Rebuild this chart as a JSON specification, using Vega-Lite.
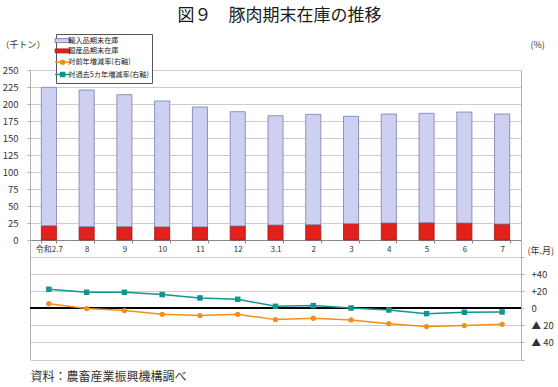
{
  "$schema": "https://vega.github.io/schema/vega-lite/v6.json",
  "width": 491,
  "height": 289.5,
  "autosize": {"type": "none"},
  "padding": {"left": 30, "top": 70, "right": 37, "bottom": 27.5},
  "background": "white",
  "title": {"text": "図９　豚肉期末在庫の推移", "fontSize": 17, "font": "Noto Sans CJK JP", "fontWeight": "normal", "color": "#1a1a1a", "anchor": "middle", "frame": "group", "offset": 9, "dx": 4},
  "config": {"view": {"stroke": null}, "font": "Noto Sans CJK JP"},
  "datasets": {
    "stock": [
      {"month": "令和2.7", "series": "国産品期末在庫", "value": 21.0},
      {"month": "令和2.7", "series": "輸入品期末在庫", "value": 203.5},
      {"month": "8", "series": "国産品期末在庫", "value": 19.6},
      {"month": "8", "series": "輸入品期末在庫", "value": 201.0},
      {"month": "9", "series": "国産品期末在庫", "value": 19.6},
      {"month": "9", "series": "輸入品期末在庫", "value": 194.1},
      {"month": "10", "series": "国産品期末在庫", "value": 19.3},
      {"month": "10", "series": "輸入品期末在庫", "value": 185.1},
      {"month": "11", "series": "国産品期末在庫", "value": 19.3},
      {"month": "11", "series": "輸入品期末在庫", "value": 176.3},
      {"month": "12", "series": "国産品期末在庫", "value": 20.6},
      {"month": "12", "series": "輸入品期末在庫", "value": 168.1},
      {"month": "3.1", "series": "国産品期末在庫", "value": 22.0},
      {"month": "3.1", "series": "輸入品期末在庫", "value": 160.8},
      {"month": "2", "series": "国産品期末在庫", "value": 22.5},
      {"month": "2", "series": "輸入品期末在庫", "value": 162.3},
      {"month": "3", "series": "国産品期末在庫", "value": 24.0},
      {"month": "3", "series": "輸入品期末在庫", "value": 157.9},
      {"month": "4", "series": "国産品期末在庫", "value": 25.0},
      {"month": "4", "series": "輸入品期末在庫", "value": 160.3},
      {"month": "5", "series": "国産品期末在庫", "value": 25.5},
      {"month": "5", "series": "輸入品期末在庫", "value": 160.8},
      {"month": "6", "series": "国産品期末在庫", "value": 25.0},
      {"month": "6", "series": "輸入品期末在庫", "value": 163.2},
      {"month": "7", "series": "国産品期末在庫", "value": 23.5},
      {"month": "7", "series": "輸入品期末在庫", "value": 161.8}
    ],
    "rates": [
      {"month": "令和2.7", "yoy": 5.4, "five": 22.2},
      {"month": "8", "yoy": -0.4, "five": 18.7},
      {"month": "9", "yoy": -2.7, "five": 18.7},
      {"month": "10", "yoy": -7.1, "five": 16.0},
      {"month": "11", "yoy": -8.6, "five": 12.1},
      {"month": "12", "yoy": -7.1, "five": 10.5},
      {"month": "3.1", "yoy": -13.3, "five": 2.3},
      {"month": "2", "yoy": -11.7, "five": 3.1},
      {"month": "3", "yoy": -13.7, "five": 0.3},
      {"month": "4", "yoy": -18.0, "five": -2.0},
      {"month": "5", "yoy": -21.5, "five": -6.3},
      {"month": "6", "yoy": -20.3, "five": -4.7},
      {"month": "7", "yoy": -18.8, "five": -4.3}
    ]
  },
  "layer": [
    {
      "data": {"name": "stock"},
      "mark": {"type": "bar", "strokeWidth": 0.8},
      "encoding": {
        "x": {
          "field": "month", "type": "nominal", "sort": null,
          "scale": {"paddingInner": 0.6, "paddingOuter": 0.3},
          "axis": {
            "orient": "bottom", "offset": -119.5, "labelAngle": 0, "labelFontSize": 8, "labelColor": "#333", "labelPadding": 2,
            "domainColor": "#888", "tickColor": "#888", "tickSize": 3, "tickBand": "extent", "grid": false,
            "title": "(年.月)", "titleX": 497, "titleY": 10, "titleAlign": "left", "titleBaseline": "middle",
            "titleFontSize": 9, "titleFontWeight": "normal", "titleColor": "#333"
          }
        },
        "y": {
          "field": "value", "type": "quantitative", "stack": "zero",
          "scale": {"domain": [-175.7, 250], "nice": false, "zero": false},
          "axis": {
            "orient": "left", "values": [0, 25, 50, 75, 100, 125, 150, 175, 200, 225, 250],
            "grid": true, "gridColor": "#cccccc", "domainColor": "#b0b0b0", "tickColor": "#b0b0b0", "tickSize": 3,
            "labelFontSize": 9.5, "labelColor": "#333", "labelPadding": 9,
            "title": "（千トン）", "titleAngle": 0, "titleAlign": "left", "titleBaseline": "middle",
            "titleX": -30, "titleY": -26, "titleFontSize": 9, "titleFontWeight": "normal", "titleColor": "#333"
          }
        },
        "color": {
          "field": "series", "type": "nominal",
          "scale": {"domain": ["輸入品期末在庫", "国産品期末在庫", "対前年増減率(右軸)", "対過去5カ年増減率(右軸)"], "range": ["#cdd0f1", "#e3211b", "#f0901a", "#13958f"]},
          "legend": {
            "orient": "none", "legendX": 26, "legendY": -36, "title": null, "direction": "vertical",
            "fillColor": "white", "strokeColor": "#555", "padding": 3,
            "labelFontSize": 7.2, "labelColor": "#222", "labelOffset": 2, "symbolSize": 100, "rowPadding": 1.3,
            "encode": {
              "symbols": {
                "update": {
                  "shape": {"signal": "datum.value === '対前年増減率(右軸)' ? 'M-1.5,0H1.5M0.4,0A0.4,0.4 0 1,1 -0.4,0A0.4,0.4 0 1,1 0.4,0' : datum.value === '対過去5カ年増減率(右軸)' ? 'M-1.5,0H1.5M-0.4,-0.4H0.4V0.4H-0.4Z' : 'M-1.5,-0.4H1.5V0.4H-1.5Z'"},
                  "fill": {"signal": "datum.value === '輸入品期末在庫' ? '#cdd0f1' : datum.value === '国産品期末在庫' ? '#e3211b' : datum.value === '対前年増減率(右軸)' ? '#f0901a' : '#13958f'"},
                  "stroke": {"signal": "datum.value === '輸入品期末在庫' ? '#6b6bb0' : datum.value === '国産品期末在庫' ? '#a31515' : datum.value === '対前年増減率(右軸)' ? '#f0901a' : '#13958f'"},
                  "strokeWidth": {"signal": "datum.value === '輸入品期末在庫' || datum.value === '国産品期末在庫' ? 0.8 : 1.5"},
                  "opacity": {"value": 1},
                  "fillOpacity": {"value": 1}
                }
              }
            }
          }
        },
        "stroke": {
          "field": "series", "type": "nominal", "legend": null,
          "scale": {"domain": ["輸入品期末在庫", "国産品期末在庫"], "range": ["#7b7bb5", "#a31515"]}
        },
        "order": {"field": "series", "sort": "ascending"}
      }
    },
    {
      "data": {"name": "rates"},
      "encoding": {
        "x": {
          "field": "month", "type": "nominal", "sort": null,
          "axis": {
            "orient": "bottom", "labels": false, "ticks": false, "domain": false, "grid": false,
            "title": "資料：農畜産業振興機構調べ", "titleX": 0, "titleY": 17, "titleAlign": "left", "titleBaseline": "middle",
            "titleFontSize": 12, "titleFontWeight": "normal", "titleColor": "#333"
          }
        }
      },
      "layer": [
        {
          "mark": {"type": "rule", "color": "#000", "strokeWidth": 1.5},
          "encoding": {
            "x": {"value": 0}, "x2": {"value": 491},
            "y": {
              "datum": 0, "type": "quantitative",
              "scale": {"domain": [-60, 279], "nice": false, "zero": false},
              "axis": {
                "orient": "right", "values": [-60, -40, -20, 0, 20, 40, 60],
                "grid": true, "gridColor": "#cccccc", "domainColor": "#b0b0b0", "tickColor": "#b0b0b0", "tickSize": 3,
                "labelFontSize": 9.5, "labelColor": "#333", "labelPadding": 7,
                "labelExpr": "abs(datum.value) >= 60 ? '' : datum.value > 0 ? '+' + datum.value : datum.value < 0 ? '▲ ' + abs(datum.value) : '0'",
                "title": "(%)", "titleAngle": 0, "titleAlign": "left", "titleBaseline": "middle",
                "titleX": 9, "titleY": -26, "titleFontSize": 9, "titleFontWeight": "normal", "titleColor": "#333"
              }
            }
          }
        },
        {
          "mark": {"type": "line", "color": "#f0901a", "strokeWidth": 1.5},
          "encoding": {
            "y": {
              "field": "yoy", "type": "quantitative",
              "axis": {
                "orient": "right", "values": [-60, -40, -20, 0, 20, 40, 60],
                "grid": true, "gridColor": "#cccccc", "domainColor": "#b0b0b0", "tickColor": "#b0b0b0", "tickSize": 3,
                "labelFontSize": 9.5, "labelColor": "#333", "labelPadding": 7,
                "labelExpr": "abs(datum.value) >= 60 ? '' : datum.value > 0 ? '+' + datum.value : datum.value < 0 ? '▲ ' + abs(datum.value) : '0'",
                "title": "(%)", "titleAngle": 0, "titleAlign": "left", "titleBaseline": "middle",
                "titleX": 9, "titleY": -26, "titleFontSize": 9, "titleFontWeight": "normal", "titleColor": "#333"
              }
            }
          }
        },
        {
          "mark": {"type": "point", "shape": "circle", "filled": true, "color": "#f0901a", "size": 28, "opacity": 1},
          "encoding": {
            "y": {
              "field": "yoy", "type": "quantitative",
              "axis": {
                "orient": "right", "values": [-60, -40, -20, 0, 20, 40, 60],
                "grid": true, "gridColor": "#cccccc", "domainColor": "#b0b0b0", "tickColor": "#b0b0b0", "tickSize": 3,
                "labelFontSize": 9.5, "labelColor": "#333", "labelPadding": 7,
                "labelExpr": "abs(datum.value) >= 60 ? '' : datum.value > 0 ? '+' + datum.value : datum.value < 0 ? '▲ ' + abs(datum.value) : '0'",
                "title": "(%)", "titleAngle": 0, "titleAlign": "left", "titleBaseline": "middle",
                "titleX": 9, "titleY": -26, "titleFontSize": 9, "titleFontWeight": "normal", "titleColor": "#333"
              }
            }
          }
        },
        {
          "mark": {"type": "line", "color": "#13958f", "strokeWidth": 1.5},
          "encoding": {
            "y": {
              "field": "five", "type": "quantitative",
              "axis": {
                "orient": "right", "values": [-60, -40, -20, 0, 20, 40, 60],
                "grid": true, "gridColor": "#cccccc", "domainColor": "#b0b0b0", "tickColor": "#b0b0b0", "tickSize": 3,
                "labelFontSize": 9.5, "labelColor": "#333", "labelPadding": 7,
                "labelExpr": "abs(datum.value) >= 60 ? '' : datum.value > 0 ? '+' + datum.value : datum.value < 0 ? '▲ ' + abs(datum.value) : '0'",
                "title": "(%)", "titleAngle": 0, "titleAlign": "left", "titleBaseline": "middle",
                "titleX": 9, "titleY": -26, "titleFontSize": 9, "titleFontWeight": "normal", "titleColor": "#333"
              }
            }
          }
        },
        {
          "mark": {"type": "point", "shape": "square", "filled": true, "color": "#13958f", "size": 30, "opacity": 1},
          "encoding": {
            "y": {
              "field": "five", "type": "quantitative",
              "axis": {
                "orient": "right", "values": [-60, -40, -20, 0, 20, 40, 60],
                "grid": true, "gridColor": "#cccccc", "domainColor": "#b0b0b0", "tickColor": "#b0b0b0", "tickSize": 3,
                "labelFontSize": 9.5, "labelColor": "#333", "labelPadding": 7,
                "labelExpr": "abs(datum.value) >= 60 ? '' : datum.value > 0 ? '+' + datum.value : datum.value < 0 ? '▲ ' + abs(datum.value) : '0'",
                "title": "(%)", "titleAngle": 0, "titleAlign": "left", "titleBaseline": "middle",
                "titleX": 9, "titleY": -26, "titleFontSize": 9, "titleFontWeight": "normal", "titleColor": "#333"
              }
            }
          }
        }
      ]
    }
  ],
  "resolve": {"scale": {"y": "independent", "stroke": "independent"}, "axis": {"x": "independent"}}
}
